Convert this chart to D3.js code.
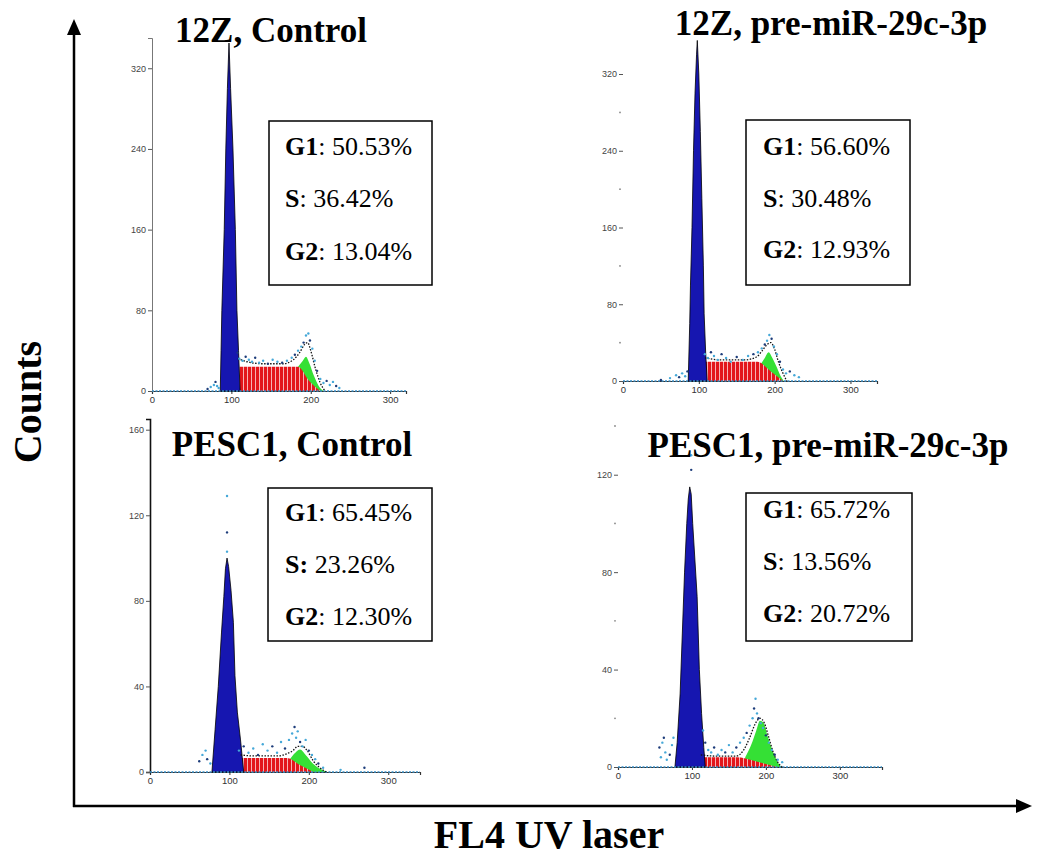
<!DOCTYPE html>
<html><head><meta charset="utf-8">
<script src="https://cdn.jsdelivr.net/npm/d3@7"></script>
<style>body{margin:0;background:#fff;} svg{display:block;}</style>
</head><body>
<svg id="chart" width="1046" height="857"></svg>
<script>
// ---------------- DATA ----------------
const titles = ["12Z, Control", "12Z, pre-miR-29c-3p", "PESC1, Control", "PESC1, pre-miR-29c-3p"];
const g1Pct = ["50.53%", "56.60%", "65.45%", "65.72%"];
const sPct  = ["36.42%", "30.48%", "23.26%", "13.56%"];
const g2Pct = ["13.04%", "12.93%", "12.30%", "20.72%"];
const xTickValues = [0, 100, 200, 300];
const yTicksA = [0, 80, 160, 240, 320];
const yTicksB = [0, 80, 160, 240, 320];
const yTicksC = [0, 40, 80, 120, 160];
const yTicksD = [0, 40, 80, 120];
const yMinorB = [40, 120, 200, 280];
const yMinorD = [20, 60, 100, 140];
const xAxisTitle = "FL4 UV laser";
const yAxisTitle = "Counts";

// [channel, count]
const g1A = [[86,0],[87,40],[88,80],[91,160],[93,240],[95,300],[97,345],[99,300],[102,240],[105,160],[107,80],[109,40],[111,0]];
const sA  = [[92,0],[100,15],[107,24],[184,24],[198,10],[212,0]];
const g2A = [[184,24],[190,30],[194,34],[198,28],[204,15],[210,5],[216,0]];
const fitA = [[108,32],[120,29],[140,27],[165,27],[178,31],[186,38],[192,46],[196,48],[200,40],[206,22],[212,8],[218,0]];
const dotsA = [[70,2],[74,4],[78,6],[80,9],[82,5],[84,3],[108,38],[110,32],[114,30],[118,34],[122,31],[126,29],[130,33],[135,28],[140,30],[146,27],[152,31],[158,29],[164,28],[170,30],[176,33],[180,36],[184,40],[188,44],[191,48],[194,55],[197,57],[199,50],[202,42],[205,30],[208,20],[212,12],[216,8],[220,10],[224,6],[228,9],[232,5],[236,3]];

const g1B = [[86,0],[88,60],[89,100],[91,160],[93,240],[95,300],[97,340],[98,355],[100,320],[102,260],[104,190],[106,120],[107,70],[109,30],[111,0]];
const sB  = [[94,0],[100,12],[106,20],[177,20],[195,10],[211,0]];
const g2B = [[182,18],[187,24],[192,30],[197,24],[203,14],[208,5],[212,0]];
const fitB = [[108,24],[130,22],[160,22],[176,25],[184,32],[190,38],[195,40],[200,33],[205,20],[211,8],[216,0]];
const dotsB = [[50,1],[62,3],[70,6],[74,4],[78,8],[82,5],[85,10],[108,28],[112,24],[116,30],[120,26],[125,22],[130,28],[136,24],[142,20],[150,25],[158,22],[165,26],[172,28],[178,30],[183,34],[187,38],[190,42],[193,48],[196,44],[199,36],[203,28],[207,20],[211,12],[215,8],[220,10],[226,6],[232,4]];

const g1C = [[78,0],[82,20],[86,40],[90,65],[93,82],[95,95],[97,100],[99,96],[102,85],[105,70],[107,45],[110,28],[114,15],[118,0]];
const sC  = [[98,0],[105,3],[117,6.5],[172,6.5],[190,3],[206,0]];
const g2C = [[176,6],[183,9],[189,10.5],[196,8],[205,4],[214,1.5],[223,0]];
const fitC = [[114,8],[130,7.5],[160,7.5],[172,8.5],[180,10],[186,12],[192,12],[198,10],[206,5],[214,2],[222,0]];
const dotsC = [[62,5],[66,8],[70,10],[72,6],[76,4],[97,103],[97,112],[97,129],[112,10],[118,12],[124,9],[130,11],[136,8],[142,13],[148,10],[154,12],[160,9],[165,14],[170,11],[175,15],[179,18],[182,21],[184,16],[186,19],[189,14],[192,12],[196,15],[200,10],[204,8],[208,6],[212,4],[218,2],[240,1],[270,2]];

const g1D = [[77,0],[80,10],[84,30],[87,55],[90,80],[93,100],[95,110],[97,115],[99,112],[101,100],[104,85],[107,70],[110,40],[113,22],[116,8],[118,0]];
const sD  = [[98,0],[104,2.5],[112,4],[160,4],[185,2.5],[200,1.2],[215,0]];
const g2D = [[172,4],[180,9],[187,15],[192,19],[197,18],[203,12],[210,6],[216,2],[221,0]];
const fitD = [[112,5],[130,4.5],[160,4.5],[170,7],[178,12],[186,18],[192,20],[198,18],[204,12],[210,6],[216,2],[222,0]];
const dotsD = [[56,8],[58,4],[60,10],[62,12],[64,6],[66,3],[70,5],[73,9],[75,12],[99,122],[99,128],[115,15],[118,10],[122,7],[126,6],[130,8],[135,5],[140,7],[145,6],[150,9],[155,6],[160,8],[165,10],[170,12],[174,14],[178,17],[182,20],[184,24],[186,28],[188,22],[190,20],[193,18],[196,16],[200,13],[204,10],[208,7],[212,5],[216,3],[222,2]];

// ---------------- LAYOUT ----------------
const panels = [
  {g1:g1A, s:sA, g2:g2A, fit:fitA, dots:dotsA, yTicks:yTicksA, yMinor:[], xr:[152,406], xd:[0,320], yr:[391,38], yd:[0,350], yLine:true,
   title:[271,42], box:[269,121,163,164], tx:285, ty:[155,207,260]},
  {g1:g1B, s:sB, g2:g2B, fit:fitB, dots:dotsB, yTicks:yTicksB, yMinor:yMinorB, xr:[623,877], xd:[0,335], yr:[381,74], yd:[0,320], yLine:false,
   title:[831,35], box:[746,120,164,165], tx:763, ty:[155,207,258]},
  {g1:g1C, s:sC, g2:g2C, fit:fitC, dots:dotsC, yTicks:yTicksC, yMinor:[], xr:[150,420], xd:[0,340], yr:[772,419], yd:[0,165], yLine:true,
   title:[292,456], box:[268,488,164,153], tx:285, ty:[521,573,625], sBold:true},
  {g1:g1D, s:sD, g2:g2D, fit:fitD, dots:dotsD, yTicks:yTicksD, yMinor:yMinorD, xr:[618,882], xd:[0,357], yr:[767,426], yd:[0,140], yLine:false,
   title:[828,457], box:[746,493,166,148], tx:763, ty:[518,570,622]}
];

const svg = d3.select("#chart");
const defs = svg.append("defs");
const pat = defs.append("pattern").attr("id","stripes").attr("patternUnits","userSpaceOnUse")
  .attr("width",4).attr("height",20);
pat.append("rect").attr("width",4).attr("height",20).attr("fill","#e3161b");
pat.append("rect").attr("x",3).attr("width",0.9).attr("height",20).attr("fill","#fff").attr("opacity",0.75);

const serif = "'Liberation Serif','Times New Roman',serif";
const sans = "'Liberation Sans',Arial,sans-serif";

panels.forEach((p, i) => {
  const g = svg.append("g");
  const x = d3.scaleLinear().domain(p.xd).range(p.xr);
  const y = d3.scaleLinear().domain(p.yd).range(p.yr);

  // axes
  const xAxis = d3.axisBottom(x).tickValues(xTickValues).tickSize(3).tickPadding(2).tickFormat(d3.format("d"));
  const gx = g.append("g").attr("transform",`translate(0,${y(0)})`).call(xAxis);
  gx.select(".domain").attr("stroke","#333").attr("stroke-width",1.2);
  gx.selectAll(".tick line").attr("stroke","#333");
  gx.selectAll("text").attr("font-family",sans).attr("font-size",9.5).attr("fill","#333");

  const yAxis = d3.axisLeft(y).tickValues(p.yTicks).tickSize(4).tickPadding(2).tickFormat(d3.format("d"));
  const gy = g.append("g").attr("transform",`translate(${x(0)},0)`).call(yAxis);
  gy.select(".domain").attr("stroke", p.yLine ? (i===2 ? "#111" : "#777") : "none").attr("stroke-width", i===2?1.6:1);
  gy.selectAll(".tick line").attr("stroke","#555");
  gy.selectAll("text").attr("font-family",sans).attr("font-size",9).attr("fill","#444");
  g.selectAll(".minor").data(p.yMinor).join("circle").attr("class","minor")
    .attr("cx",x(0)-3).attr("cy",d=>y(d)).attr("r",0.9).attr("fill","#888");

  const area = d3.area().x(d=>x(d[0])).y0(y(0)).y1(d=>y(d[1])).curve(d3.curveMonotoneX);
  const areaLin = d3.area().x(d=>x(d[0])).y0(y(0)).y1(d=>y(d[1])).curve(d3.curveLinear);
  const line = d3.line().x(d=>x(d[0])).y(d=>y(d[1])).curve(d3.curveMonotoneX);

  g.append("path").datum(p.g2).attr("d",area).attr("fill","#35e035");
  g.append("path").datum(p.s).attr("d",area).attr("fill","url(#stripes)");
  g.append("path").datum(p.g1).attr("d",areaLin).attr("fill","#1616b0").attr("stroke","#000").attr("stroke-width",0.8);

  // raw data along baseline
  g.append("line").attr("x1",x(p.xd[0])).attr("x2",x(p.xd[1])).attr("y1",y(0)).attr("y2",y(0))
    .attr("stroke","#3a90c8").attr("stroke-width",1.4).attr("stroke-dasharray","2,1.5");

  g.append("path").datum(p.fit).attr("d",line).attr("fill","none").attr("stroke","#111")
    .attr("stroke-width",1.3).attr("stroke-dasharray","1.5,1.5");
  g.selectAll(".dot").data(p.dots).join("circle").attr("class","dot")
    .attr("cx",d=>x(d[0])).attr("cy",d=>y(d[1])).attr("r",1.2).attr("fill",(d,k)=>k%3===0?"#1d3c7a":"#45a8d8");

  // title
  svg.append("text").attr("x",p.title[0]).attr("y",p.title[1]).attr("text-anchor","middle")
    .attr("font-family",serif).attr("font-weight","bold").attr("font-size",35).attr("fill","#000").text(titles[i]);

  // box
  svg.append("rect").attr("x",p.box[0]).attr("y",p.box[1]).attr("width",p.box[2]).attr("height",p.box[3])
    .attr("fill","#fff").attr("stroke","#000").attr("stroke-width",1.5);
  const rows = [["G1", g1Pct[i], false], ["S", sPct[i], !!p.sBold], ["G2", g2Pct[i], false]];
  rows.forEach((r, k) => {
    const t = svg.append("text").attr("x",p.tx).attr("y",p.ty[k]).attr("font-family",serif)
      .attr("font-size",26).attr("fill","#000");
    t.append("tspan").attr("font-weight","bold").text(r[2] ? r[0] + ":" : r[0]);
    t.append("tspan").text((r[2] ? " " : ": ") + r[1]);
  });
});

// main axes with arrows
svg.append("line").attr("x1",74).attr("x2",74).attr("y1",807).attr("y2",32).attr("stroke","#000").attr("stroke-width",2.5);
svg.append("path").attr("d","M74,19 L67,35 L81,35 Z").attr("fill","#000");
svg.append("line").attr("x1",73).attr("x2",1018).attr("y1",806).attr("y2",806).attr("stroke","#000").attr("stroke-width",2.5);
svg.append("path").attr("d","M1032,806 L1016,799 L1016,813 Z").attr("fill","#000");

svg.append("text").attr("transform","translate(27,402) rotate(-90)").attr("text-anchor","middle")
  .attr("dominant-baseline","central").attr("font-family",serif).attr("font-weight","bold").attr("font-size",40).text(yAxisTitle);
svg.append("text").attr("x",549).attr("y",848).attr("text-anchor","middle")
  .attr("font-family",serif).attr("font-weight","bold").attr("font-size",40).text(xAxisTitle);
</script>
</body></html>
